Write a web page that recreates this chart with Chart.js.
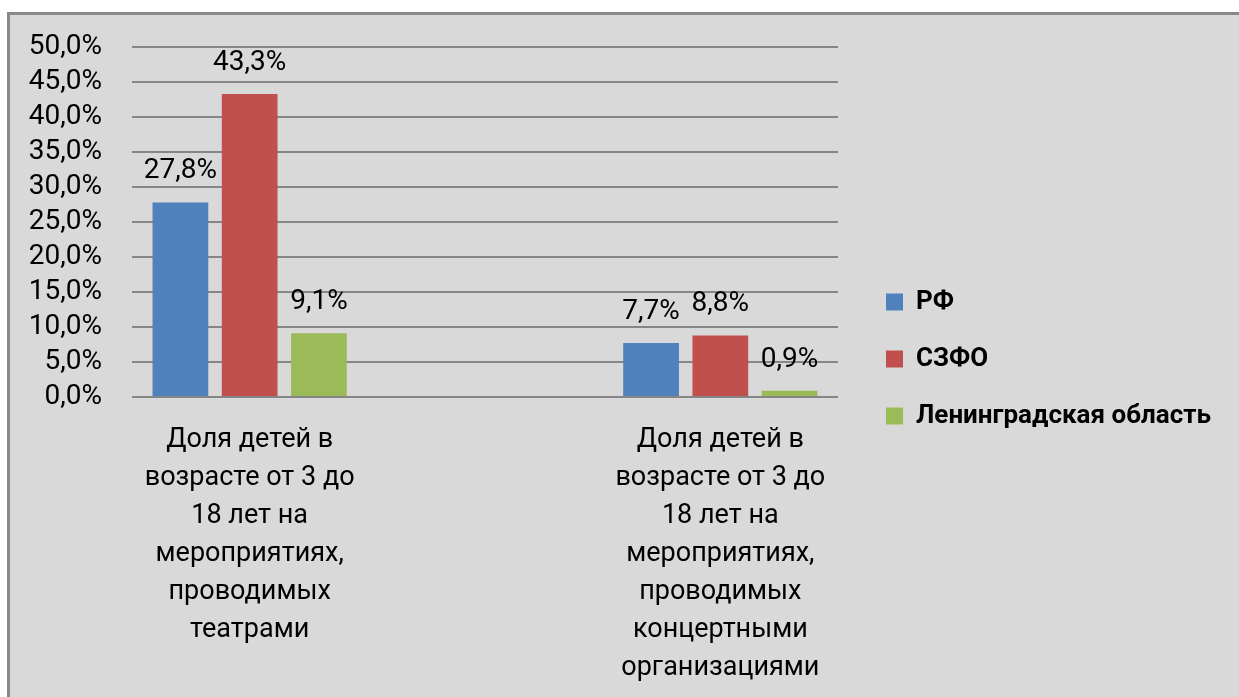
<!DOCTYPE html>
<html>
<head>
<meta charset="utf-8">
<script src="https://cdn.jsdelivr.net/npm/chart.js@4"></script>
<style>
    body { margin: 0; background: #ffffff; }
    #frame {
        position: absolute; left: 7px; top: 12px; width: 1240px; height: 700px;
        background: #d9d9d9; border-top: 3px solid #898989; border-left: 3px solid #898989;
    }
    #chart { position: absolute; left: 0; top: 0; }
</style>
</head>
<body>
<div id="frame"></div>
<canvas id="chart" width="1239" height="697"></canvas>
<script>
// Chart data
const categories = [
    ['Доля детей в', 'возрасте от 3 до', '18 лет на', 'мероприятиях,', 'проводимых', 'театрами'],
    ['Доля детей в', 'возрасте от 3 до', '18 лет на', 'мероприятиях,', 'проводимых', 'концертными', 'организациями']
];
const seriesNames = ['РФ', 'СЗФО', 'Ленинградская область'];
const rfValues = [27.8, 7.7];
const szfoValues = [43.3, 8.8];
const lenValues = [9.1, 0.9];
const yTicks = [0, 5, 10, 15, 20, 25, 30, 35, 40, 45, 50];

const colors = ['#4f81bd', '#c0504d', '#9bbb59'];
const fontFamily = 'Roboto, "Liberation Sans", sans-serif';

function fmt(v) {
    return v.toFixed(1).replace('.', ',') + '%';
}

// Value labels above the bars
const barLabels = {
    id: 'barLabels',
    afterDatasetsDraw(chart) {
        const ctx = chart.ctx;
        ctx.save();
        ctx.font = '28px ' + fontFamily;
        ctx.fillStyle = '#000';
        ctx.textAlign = 'center';
        ctx.textBaseline = 'middle';
        chart.data.datasets.forEach((ds, i) => {
            chart.getDatasetMeta(i).data.forEach((bar, j) => {
                ctx.fillText(fmt(ds.data[j]), bar.x, bar.y - 31);
            });
        });
        ctx.restore();
    }
};

window.onload = () => {
    // legend width, so that the legend starts right after the plot
    const mctx = document.createElement('canvas').getContext('2d');
    mctx.font = 'bold 26px ' + fontFamily;
    const legendText = Math.max(...seriesNames.map(s => mctx.measureText(s).width));
    const legendWidth = 31 + 17 + 13 + legendText + 10;
    const padRight = Math.max(0, 1239 - 855 - legendWidth);
    // side boxes are capped at 1/6 of the free width (3 side boxes), so widen it on the left
    const padLeft = -Math.max(0, 6 * (legendWidth + 40) + padRight - 1239);

    const ctx = document.getElementById('chart').getContext('2d');
    new Chart(ctx, {
        type: 'bar',
        data: {
            labels: categories,
            datasets: [
                { label: seriesNames[0], data: rfValues, backgroundColor: colors[0] },
                { label: seriesNames[1], data: szfoValues, backgroundColor: colors[1] },
                { label: seriesNames[2], data: lenValues, backgroundColor: colors[2] }
            ]
        },
        options: {
            responsive: false,
            animation: false,
            categoryPercentage: 0.4414,
            barPercentage: 0.805,
            layout: { padding: { left: padLeft, top: 21, bottom: 0, right: padRight } },
            plugins: {
                tooltip: { enabled: false },
                legend: {
                    position: 'right',
                    labels: {
                        boxWidth: 17,
                        boxHeight: 17,
                        padding: 31,
                        color: '#000',
                        font: { family: fontFamily, size: 26, weight: 'bold' }
                    }
                }
            },
            scales: {
                x: {
                    grid: { display: false, drawTicks: false },
                    border: { display: false },
                    ticks: {
                        autoSkip: false,
                        maxRotation: 0,
                        padding: 24,
                        color: '#000',
                        font: { family: fontFamily, size: 27, lineHeight: '38px' }
                    },
                    // categories sit at 1/6 and 5/6 of the plot width, like the original
                    afterBuildTicks: (scale) => {
                        scale._startValue = -0.25;
                        scale._valueRange = 1.5;
                    },
                    afterFit: (scale) => { scale.height = 300; }
                },
                // empty band above the plot
                x2: {
                    position: 'top',
                    grid: { drawOnChartArea: false, drawTicks: false },
                    border: { display: false },
                    ticks: { display: false },
                    afterFit: (scale) => { scale.height = 26; }
                },
                y: {
                    min: 0,
                    max: 50,
                    afterBuildTicks: (scale) => { scale.ticks = yTicks.map(v => ({ value: v })); },
                    grid: { color: '#868686', lineWidth: 2, drawTicks: false },
                    border: { display: false },
                    ticks: {
                        autoSkip: false,
                        padding: 30,
                        color: '#000',
                        font: { family: fontFamily, size: 28 },
                        callback: (v) => fmt(v)
                    },
                    afterFit: (scale) => { scale.width = 132 - padLeft; }
                },
                // spacer between plot and legend
                y2: {
                    position: 'right',
                    grid: { drawOnChartArea: false, drawTicks: false },
                    border: { display: false },
                    ticks: { display: false },
                    afterFit: (scale) => { scale.width = 17; }
                }
            }
        },
        plugins: [barLabels]
    });
};
</script>
</body>
</html>
